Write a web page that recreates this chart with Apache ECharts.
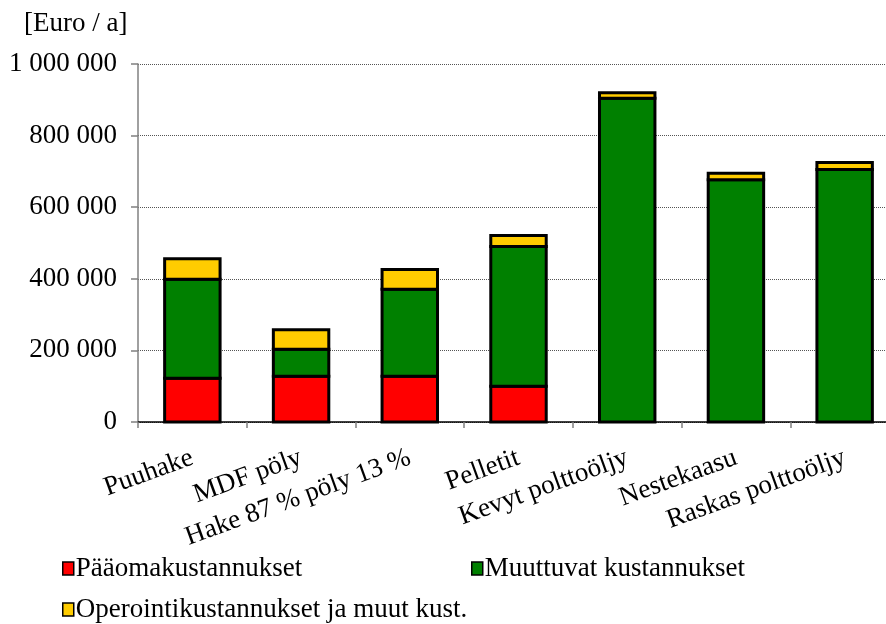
<!DOCTYPE html>
<html>
<head>
<meta charset="utf-8">
<script src="https://cdn.jsdelivr.net/npm/echarts@6/dist/echarts.min.js"></script>
<style>
  html, body { margin: 0; padding: 0; background: #fff; }
  #chart { width: 886px; height: 624px; }
</style>
</head>
<body>
<div id="chart"></div>
<script>
// Annual heating costs per fuel, euros per year
const categories = ['Puuhake', 'MDF pöly', 'Hake 87 % pöly 13 %', 'Pelletit', 'Kevyt polttoöljy', 'Nestekaasu', 'Raskas polttoöljy'];
const capitalCosts   = [122000, 128000, 128000, 100000, 0, 0, 0];
const variableCosts  = [277000, 75000, 243000, 390000, 904000, 677000, 705000];
const operatingCosts = [57000, 55000, 55000, 31000, 16000, 18000, 20000];
const seriesNames = ['Pääomakustannukset', 'Muuttuvat kustannukset', 'Operointikustannukset ja muut kust.'];
const seriesColors = ['#FF0000', '#008000', '#FFCC00'];
const yTicks = [0, 200000, 400000, 600000, 800000, 1000000];

const FONT = "'Liberation Serif', 'Times New Roman', serif";
const FONT_SIZE = 27;
const fmt = v => String(v).replace(/\B(?=(\d{3})+(?!\d))/g, ' ');

// Stack the segments: each item is [categoryIndex, bottom, top]
const layers = [capitalCosts, variableCosts, operatingCosts];
const running = categories.map(() => 0);
const stacked = layers.map(values => values.map((v, i) => {
  const bottom = running[i];
  running[i] += v;
  return [i, bottom, running[i]];
}));

// Outlined stacked segment; the stroke is centred on the segment edges,
// so neighbouring segments share one border line.
function segmentRenderer(color) {
  return function (params, api) {
    const bottom = api.value(1);
    const top = api.value(2);
    if (top <= bottom) return null;
    const idx = api.value(0);
    const p0 = api.coord([idx, bottom]);
    const p1 = api.coord([idx, top]);
    const w = api.size([1, 0])[0] * 0.51;
    return {
      type: 'rect',
      shape: { x: p0[0] - w / 2, y: p1[1], width: w, height: p0[1] - p1[1] },
      style: { fill: color, stroke: '#000', lineWidth: 3 }
    };
  };
}

function segmentSeries(k) {
  return {
    name: seriesNames[k],
    type: 'custom',
    renderItem: segmentRenderer(seriesColors[k]),
    data: stacked[k],
    encode: { x: 0, y: [1, 2] },
    itemStyle: { color: seriesColors[k] },
    z: 2 + k,
    silent: true
  };
}

function legendFor(name, left, top) {
  return {
    data: [name],
    left: left,
    top: top,
    padding: 0,
    orient: 'horizontal',
    icon: 'rect',
    itemWidth: 11,
    itemHeight: 13,
    itemStyle: { borderColor: '#000', borderWidth: 1.5 },
    textStyle: { fontFamily: FONT, fontSize: FONT_SIZE, color: '#000', padding: [0, 0, 0, -3] },
    selectedMode: false
  };
}

const chart = echarts.init(document.getElementById('chart'), null, { renderer: 'canvas' });

chart.setOption({
  animation: false,
  backgroundColor: '#fff',
  title: {
    text: '[Euro / a]',
    left: 19,
    top: 5,
    textStyle: { fontFamily: FONT, fontSize: FONT_SIZE, fontWeight: 'normal', color: '#000' }
  },
  grid: {
    left: 138, top: 64, bottom: 202, width: 761,
    containLabel: false,
    outerBoundsMode: 'none'
  },
  legend: [
    legendFor(seriesNames[0], 62, 555),
    legendFor(seriesNames[1], 471, 555),
    legendFor(seriesNames[2], 62, 596)
  ],
  xAxis: {
    type: 'category',
    data: categories,
    boundaryGap: true,
    axisLine: { show: true, lineStyle: { color: '#000', width: 1.5 } },
    axisTick: { show: true, alignWithLabel: false, length: 6, lineStyle: { color: '#808080', width: 1.5 } },
    axisLabel: {
      interval: 0,
      rotate: 20,
      margin: 35,
      fontFamily: FONT,
      fontSize: FONT_SIZE,
      color: '#000'
    },
    splitLine: { show: false }
  },
  yAxis: {
    type: 'value',
    min: yTicks[0],
    max: yTicks[yTicks.length - 1],
    interval: yTicks[1] - yTicks[0],
    axisLine: { show: true, lineStyle: { color: '#808080', width: 1.5 } },
    axisTick: { show: true, length: 7, lineStyle: { color: '#808080', width: 1.5 } },
    axisLabel: {
      margin: 21,
      fontFamily: FONT,
      fontSize: FONT_SIZE,
      color: '#000',
      formatter: v => fmt(v)
    },
    splitLine: { show: true, lineStyle: { color: '#555', width: 1, type: 'dotted' } }
  },
  series: [segmentSeries(0), segmentSeries(1), segmentSeries(2)]
});
</script>
</body>
</html>
